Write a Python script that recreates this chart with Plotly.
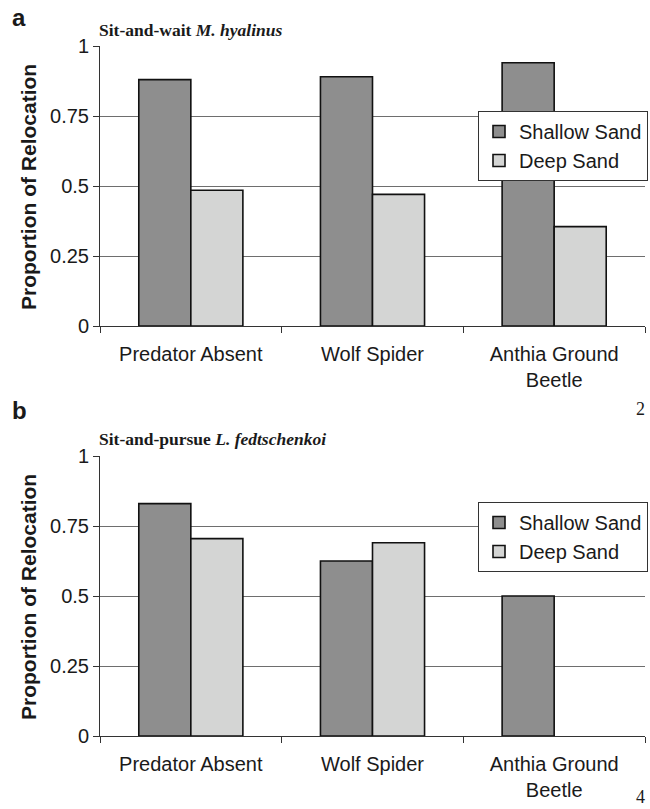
import plotly.graph_objects as go

categories = ["Predator Absent", "Wolf Spider", "Anthia Ground Beetle"]
tick_labels = ["Predator Absent", "Wolf Spider", "Anthia Ground<br>Beetle"]
series_names = ["Shallow Sand", "Deep Sand"]
a_shallow = [0.88, 0.89, 0.94]
a_deep = [0.485, 0.47, 0.355]
b_shallow = [0.83, 0.625, 0.50]
b_deep = [0.705, 0.69, 0.0]
y_tickvals = [0, 0.25, 0.5, 0.75, 1]
y_ticktext = ["0", "0.25", "0.5", "0.75", "1"]

W, H = 650, 809
SANS = "Liberation Sans, Arial, sans-serif"
SERIF = "Liberation Serif, Times New Roman, serif"
TXT = "#1a1a1a"
SHALLOW_C = "#8e8e8e"
DEEP_C = "#d4d5d4"

def py(px):
    return 1 - px / H

def widths(vals):
    return [1.6 if v > 0 else 0 for v in vals]

fig = go.Figure()
for xa, ya, leg, vals_s, vals_d in [("x", "y", "legend", a_shallow, a_deep),
                                     ("x2", "y2", "legend2", b_shallow, b_deep)]:
    fig.add_trace(go.Bar(x=categories, y=vals_s, name=series_names[0], xaxis=xa, yaxis=ya,
                         legend=leg, marker=dict(color=SHALLOW_C,
                                                 line=dict(color="#111", width=widths(vals_s)))))
    fig.add_trace(go.Bar(x=categories, y=vals_d, name=series_names[1], xaxis=xa, yaxis=ya,
                         legend=leg, marker=dict(color=DEEP_C,
                                                 line=dict(color="#111", width=widths(vals_d)))))

xdom = [100 / W, 645 / W]
xcommon = dict(domain=xdom, showline=True, linecolor="#333", linewidth=1, ticks="outside",
               tickson="boundaries", ticklen=6, tickcolor="#333", showgrid=False,
               tickvals=categories, ticktext=tick_labels, automargin=False,
               ticklabelstandoff=10,
               tickfont=dict(family=SANS, size=20, color=TXT))
ycommon = dict(range=[0, 1], showline=True, linecolor="#333", linewidth=1, ticks="outside",
               ticklen=6, tickcolor="#333", showgrid=True, gridcolor="#6e6e6e", gridwidth=1,
               zeroline=False, tickvals=y_tickvals, ticktext=y_ticktext, automargin=False,
               tickfont=dict(family=SANS, size=20, color=TXT))

legcommon = dict(x=648 / W, xanchor="right", yanchor="top", bgcolor="white",
                 bordercolor="#333", borderwidth=1, font=dict(family=SANS, size=20, color=TXT),
                 tracegroupgap=0)

fig.update_layout(
    width=W, height=H, autosize=False,
    margin=dict(l=0, r=0, t=0, b=0, pad=0),
    paper_bgcolor="white", plot_bgcolor="white",
    barmode="group", bargap=0.427, bargroupgap=0,
    xaxis=dict(anchor="y", **xcommon),
    yaxis=dict(anchor="x", domain=[py(326), py(46)], **ycommon),
    xaxis2=dict(anchor="y2", **xcommon),
    yaxis2=dict(anchor="x2", domain=[py(736), py(456)], **ycommon),
    legend=dict(y=py(111), **legcommon),
    legend2=dict(y=py(502), **legcommon),
)

ann = [
    dict(text="<b>a</b>", x=10 / W, y=py(18), xanchor="left", yanchor="middle",
         font=dict(family=SANS, size=24, color=TXT)),
    dict(text="<b>b</b>", x=10 / W, y=py(410), xanchor="left", yanchor="middle",
         font=dict(family=SANS, size=24, color=TXT)),
    dict(text="<b>Sit-and-wait <i>M. hyalinus</i></b>", x=97 / W, y=py(30),
         xanchor="left", yanchor="middle", font=dict(family=SERIF, size=17.5, color=TXT)),
    dict(text="<b>Sit-and-pursue <i>L. fedtschenkoi</i></b>", x=97 / W, y=py(439),
         xanchor="left", yanchor="middle", font=dict(family=SERIF, size=17.5, color=TXT)),
    dict(text="<b>Proportion of Relocation</b>", x=28 / W, y=py(187), textangle=-90,
         xanchor="center", yanchor="middle", font=dict(family=SANS, size=21, color=TXT)),
    dict(text="<b>Proportion of Relocation</b>", x=28 / W, y=py(597), textangle=-90,
         xanchor="center", yanchor="middle", font=dict(family=SANS, size=21, color=TXT)),
    dict(text="2", x=640 / W, y=py(409), xanchor="center", yanchor="middle",
         font=dict(family=SERIF, size=18, color=TXT)),
    dict(text="4", x=640 / W, y=py(797), xanchor="center", yanchor="middle",
         font=dict(family=SERIF, size=18, color=TXT)),
]
for a in ann:
    a.update(xref="paper", yref="paper", showarrow=False)
fig.update_layout(annotations=ann)

fig.write_html("out.html", config={"displayModeBar": False},
               post_script="document.body.style.margin='0';document.body.style.overflow='hidden';")
